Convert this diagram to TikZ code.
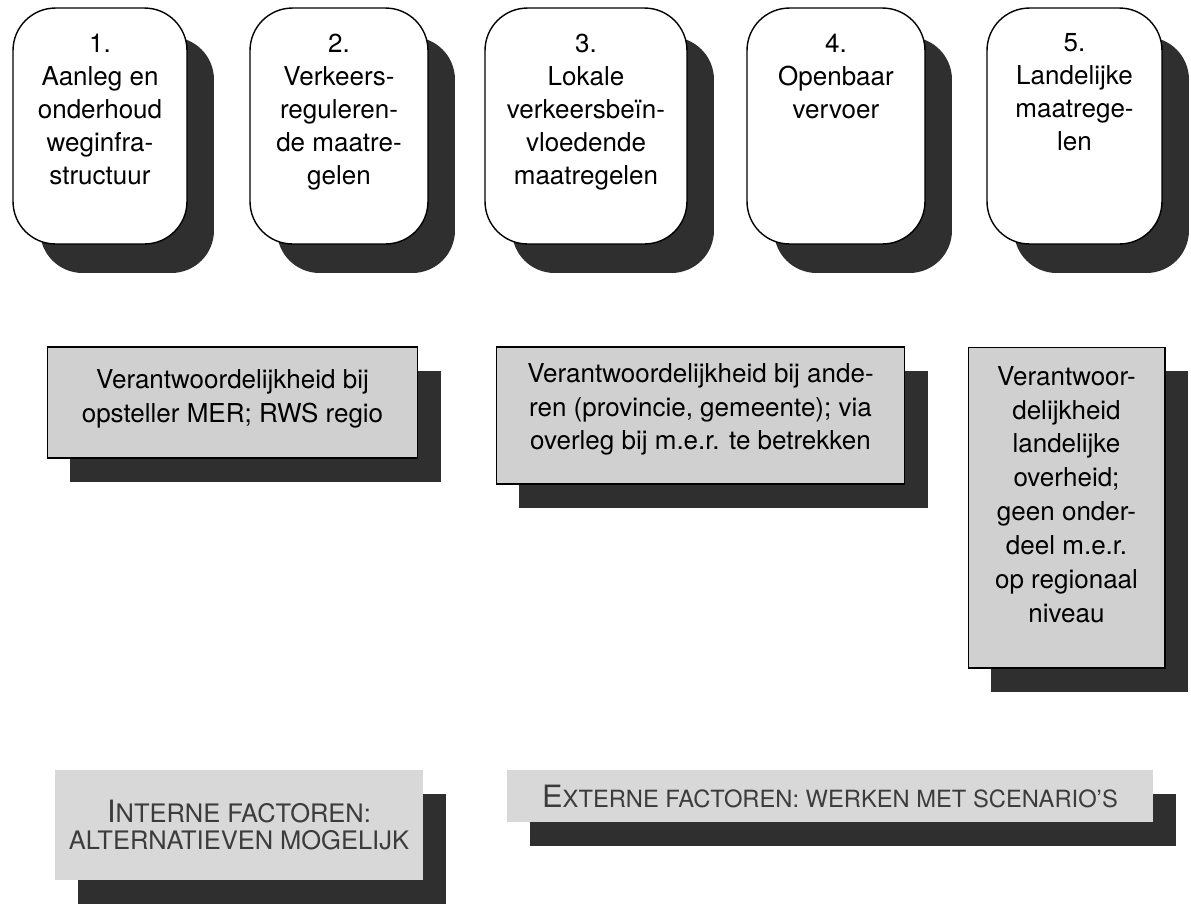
\documentclass[tikz,border=0pt]{standalone}
\usepackage{fontspec}
\setmainfont{TeX Gyre Heros}
\usetikzlibrary{shadows}
\definecolor{shade}{HTML}{2F2F2F}
\definecolor{midgray}{HTML}{D0D0D0}
\definecolor{lightgray2}{HTML}{D8D8D8}
\definecolor{captext}{HTML}{3C3C3C}
\tikzset{
  roundbox/.style={draw=black, line width=0.8pt, fill=white, rounded corners=0.85cm,
    minimum height=4.72cm, inner sep=0pt,
    drop shadow={shadow xshift=0.54cm, shadow yshift=-0.58cm, opacity=1, fill=shade}},
  toptext/.style={anchor=north, align=center, inner sep=0pt,
    font=\fontsize{14.8}{18.8}\selectfont},
  graybox/.style={draw=black, line width=0.6pt, fill=midgray, inner sep=0pt,
    drop shadow={shadow xshift=0.46cm, shadow yshift=-0.48cm, opacity=1, fill=shade}},
  graytext/.style={align=center, inner sep=0pt, font=\fontsize{14.8}{19.2}\selectfont},
  capbox/.style={draw=none, fill=lightgray2, inner sep=0pt, align=center, text=captext,
    drop shadow={shadow xshift=0.46cm, shadow yshift=-0.48cm, opacity=1, fill=shade}}
}
\newcommand{\capfirst}[1]{{\fontsize{17.5}{15}\selectfont #1}}
\begin{document}
\begin{tikzpicture}[x=0.02cm, y=-0.02cm]
\useasboundingbox[fill=white] (0,0) rectangle (1191,904);

% top row
\node[roundbox, minimum width=3.48cm] (b1) at (100,126) {};
\node[roundbox, minimum width=3.56cm] (b2) at (339,126) {};
\node[roundbox, minimum width=4.04cm] (b3) at (586,126) {};
\node[roundbox, minimum width=3.56cm] (b4) at (836,126) {};
\node[roundbox, minimum width=3.50cm] (b5) at (1074.5,126) {};

\node[toptext] (t1) at ([yshift=-0.52cm]b1.north) {1.\\Aanleg en\\onderhoud\\weginfra-\\structuur};
\node[toptext] (t2) at ([yshift=-0.52cm]b2.north) {2.\\Verkeers-\\reguleren-\\de maatre-\\gelen};
\node[toptext] (t3) at ([yshift=-0.52cm]b3.north) {3.\\Lokale\\verkeersbeïn-\\vloedende\\maatregelen};
\node[toptext] (t4) at ([yshift=-0.52cm]b4.north) {4.\\Openbaar\\vervoer};
\node[toptext] (t5) at ([yshift=-0.52cm]b5.north) {5.\\Landelijke\\maatrege-\\len};

% middle row
\node[graybox, minimum width=7.42cm, minimum height=2.22cm] (rA) at (232.5,402.5) {};
\node[graybox, minimum width=8.18cm, minimum height=2.74cm] (rB) at (700.5,415.5) {};
\node[graybox, minimum width=3.94cm, minimum height=6.42cm] (rC) at (1066.5,507.5) {};

\node[graytext] (tA) at ([yshift=0.08cm]rA.center)
  {Verantwoordelijkheid bij\\opsteller MER; RWS regio};
\node[graytext] (tB) at ([yshift=0.12cm]rB.center)
  {Verantwoordelijkheid bij ande-\\ren (provincie, gemeente); via\\overleg bij m.e.r. te betrekken};
\node[graytext, font=\fontsize{14.8}{19.3}\selectfont] (tC) at ([yshift=0.26cm]rC.center)
  {Verantwoor-\\delijkheid\\landelijke\\overheid;\\geen onder-\\deel\ m.e.r.\\op regionaal\\niveau};

% bottom row
\node[capbox, minimum width=7.36cm, minimum height=2.2cm, font=\fontsize{14.5}{15.5}\selectfont] (rD) at (239,825)
  {\capfirst{I}NTERNE FACTOREN:\\ALTERNATIEVEN MOGELIJK};
\node[capbox, minimum width=12.92cm, minimum height=1.04cm, font=\fontsize{13.5}{15}\selectfont] (rE) at (830,796)
  {\capfirst{E}XTERNE FACTOREN: WERKEN MET SCENARIO'S};
\end{tikzpicture}
\end{document}
